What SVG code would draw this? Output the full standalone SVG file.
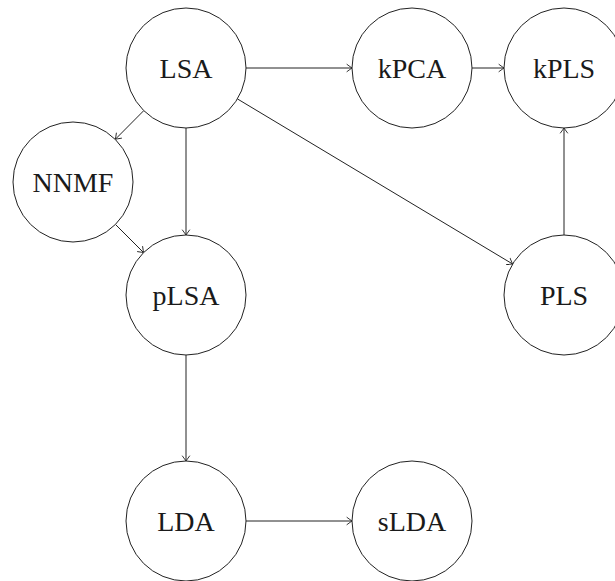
<svg xmlns="http://www.w3.org/2000/svg" width="615" height="581" viewBox="0 0 615 581">
  <defs>
    <marker id="tip" markerUnits="userSpaceOnUse" markerWidth="12" markerHeight="12" viewBox="-8 -6 10 12" refX="0" refY="0" orient="auto">
      <path d="M -5 -3.6 Q -1.2 -0.8 0 0 Q -1.2 0.8 -5 3.6" fill="none" stroke="#222" stroke-width="0.9" stroke-linecap="round"/>
    </marker>
  </defs>
  <style>
    .node circle { fill: #fff; stroke: #222; stroke-width: 1; }
    .node text { font-family: "Liberation Serif", "Times New Roman", serif; font-size: 28px; fill: #1a1a1a; text-anchor: middle; }
    .edges line { stroke: #222; stroke-width: 1; marker-end: url(#tip); }
  </style>

  <rect width="615" height="581" fill="#fff"/>

  <g class="edges" id="edges">
    <line x1="246" y1="68" x2="352" y2="68"/>
    <line x1="472" y1="68" x2="504" y2="68"/>
    <line x1="143.8" y1="110.6" x2="115.4" y2="139.2"/>
    <line x1="186" y1="128" x2="186" y2="235"/>
    <line x1="115.4" y1="224.4" x2="143.6" y2="252.6"/>
    <line x1="237.4" y1="98.9" x2="512.6" y2="264"/>
    <line x1="564" y1="235" x2="564" y2="128"/>
    <line x1="186" y1="355" x2="186" y2="461"/>
    <line x1="246" y1="521" x2="352" y2="521"/>
  </g>

  <g class="node" id="LSA"><circle cx="186" cy="68" r="60"/><text x="186" y="78">LSA</text></g>
  <g class="node" id="kPCA"><circle cx="412" cy="68" r="60"/><text x="412" y="78">kPCA</text></g>
  <g class="node" id="kPLS"><circle cx="564" cy="68" r="60"/><text x="564" y="78">kPLS</text></g>
  <g class="node" id="NNMF"><circle cx="73" cy="182" r="60"/><text x="73" y="192">NNMF</text></g>
  <g class="node" id="pLSA"><circle cx="186" cy="295" r="60"/><text x="186" y="305">pLSA</text></g>
  <g class="node" id="PLS"><circle cx="564" cy="295" r="60"/><text x="564" y="305">PLS</text></g>
  <g class="node" id="LDA"><circle cx="186" cy="521" r="60"/><text x="186" y="531">LDA</text></g>
  <g class="node" id="sLDA"><circle cx="412" cy="521" r="60"/><text x="412" y="531">sLDA</text></g>
</svg>
